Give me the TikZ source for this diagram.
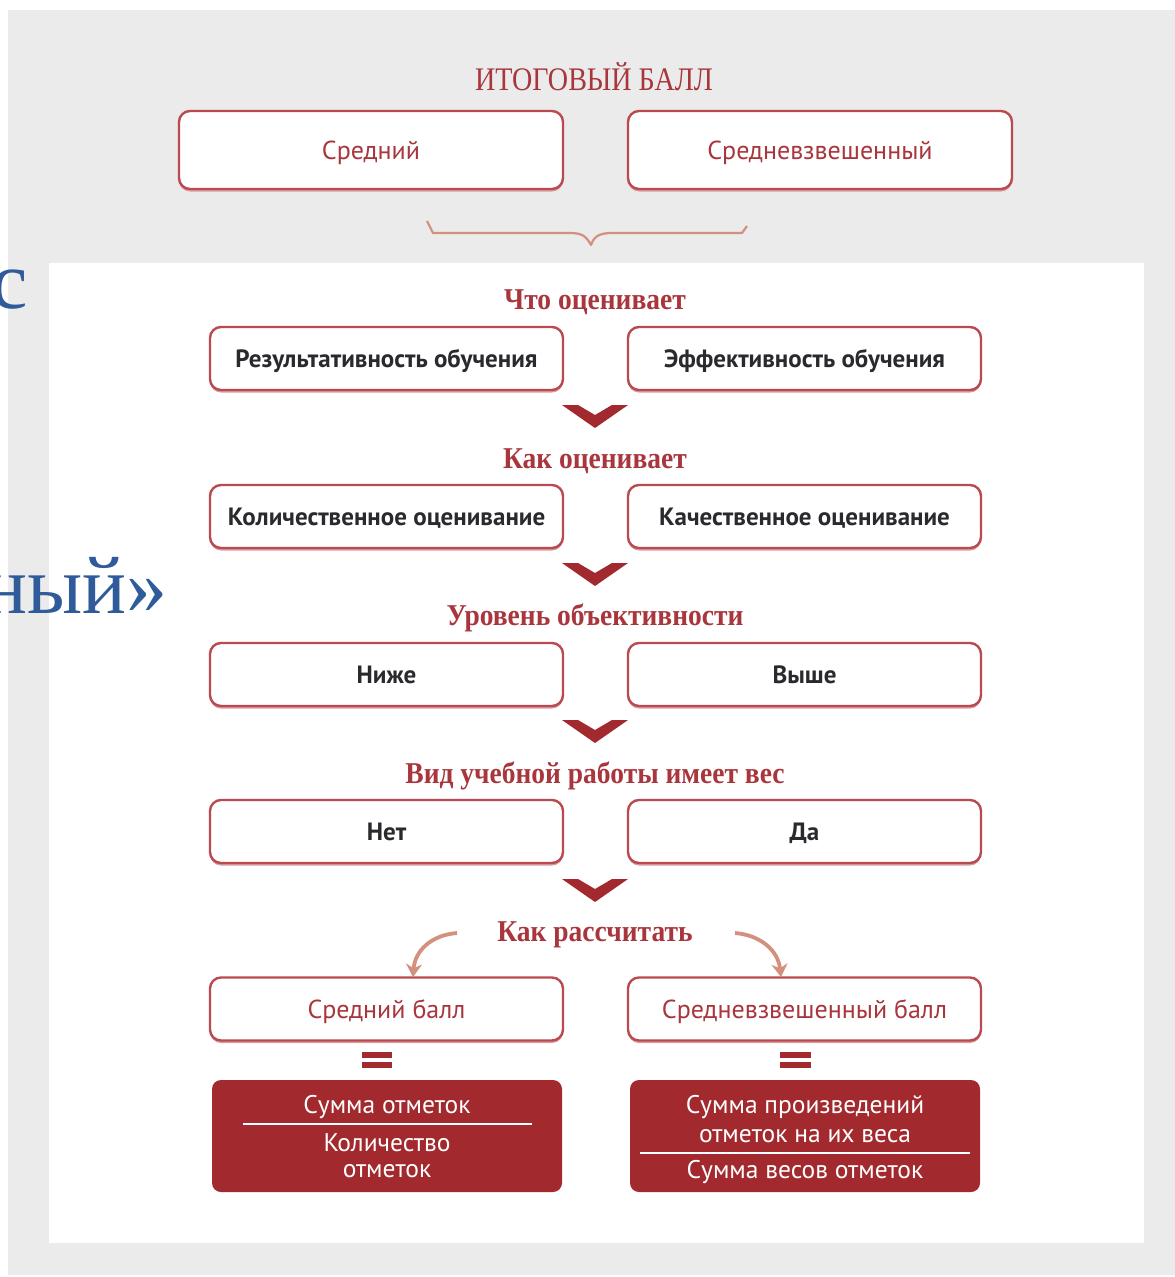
\documentclass[tikz,border=0pt]{standalone}
\usepackage{fontspec}
\setmainfont{Liberation Serif}
\newfontfamily\pts{PT Sans}
\usetikzlibrary{shadows,arrows.meta}
\definecolor{bggrey}{HTML}{EBEBEB}
\definecolor{dred}{HTML}{A2292E}
\definecolor{bred}{HTML}{BA4A50}
\definecolor{hred}{HTML}{A8363C}
\definecolor{salmon}{HTML}{D4907E}
\definecolor{blu}{HTML}{2F5B9A}
\definecolor{dtext}{HTML}{2A2A2E}
\begin{document}
\begin{tikzpicture}[x=1pt,y=-1pt,
  basebox/.style={draw=bred, line width=2.4pt, rounded corners=11pt, fill=white, inner sep=0pt,
    text depth=0pt,
    drop shadow={shadow xshift=0pt, shadow yshift=-2.5pt, fill=bred!55, opacity=1}},
  topbox/.style={basebox, minimum width=384pt, minimum height=78pt, text=hred, text height=18pt, font=\pts\fontsize{26}{30}\selectfont},
  optbox/.style={basebox, minimum width=353pt, minimum height=63pt, text=dtext, text height=17.5pt, font=\pts\bfseries\fontsize{25}{29}\selectfont},
  resbox/.style={basebox, minimum width=353pt, minimum height=63pt, text=hred, text height=18pt, font=\pts\fontsize{26}{30}\selectfont},
  hdr/.style={text=hred, font=\bfseries\fontsize{27.5}{32}\selectfont, inner sep=0pt},
  fbox/.style={fill=dred, rounded corners=9pt, minimum width=350pt, minimum height=112pt, inner sep=0pt},
  ftext/.style={text=white, font=\pts\fontsize{25.5}{29}\selectfont, inner sep=0pt},
  chev/.style={fill=dred},
  curvarr/.style={draw=salmon, line width=3.8pt, -{Stealth[length=13pt,width=16pt]}},
  bluetxt/.style={text=blu, font=\fontsize{82}{82}\selectfont, inner sep=0pt}
]
\useasboundingbox (0,0) rectangle (1175,1277);
% backgrounds
\fill[bggrey] (8,10) rectangle (1175,1275);
\fill[white] (49,263) rectangle (1144,1243);

% cut-off blue text at left
\node[bluetxt, anchor=base east] (bc) at (28,308) {с};
\node[bluetxt, anchor=base east] (bn) at (168,613) {ный»};

% title
\node[text=hred, font=\fontsize{27}{30}\selectfont, inner sep=0pt] (title) at (594,77) {\scalebox{1.04}[1.22]{ИТОГОВЫЙ БАЛЛ}};
\node[topbox] (avg) at (371,150) {Средний};
\node[topbox] (wavg) at (820,150) {Средневзвешенный};

% brace
\draw[salmon, line width=2.2pt, line join=round]
  (427,221) -- (433,233) -- (570,233) .. controls (582,233) and (586,236) .. (591,245)
  .. controls (594,236) and (600,233) .. (612,233) -- (742,233) -- (747,226);

% headers
\node[hdr] (h1) at (595,302) {\scalebox{1}[1.1]{Что оценивает}};
\node[hdr] (h2) at (595,461) {\scalebox{1}[1.1]{Как оценивает}};
\node[hdr] (h3) at (595,618) {\scalebox{1}[1.1]{Уровень объективности}};
\node[hdr] (h4) at (595,776) {\scalebox{1}[1.1]{Вид учебной работы имеет вес}};
\node[hdr] (h5) at (595,935) {\scalebox{1}[1.1]{Как рассчитать}};

% rows
\node[optbox] (r1l) at (386.5,358.5) {Результативность обучения};
\node[optbox] (r1r) at (804.5,358.5) {Эффективность обучения};
\node[optbox] (r2l) at (386.5,516.5) {Количественное оценивание};
\node[optbox] (r2r) at (804.5,516.5) {Качественное оценивание};
\node[optbox] (r3l) at (386.5,674.5) {Ниже};
\node[optbox] (r3r) at (804.5,674.5) {Выше};
\node[optbox] (r4l) at (386.5,831.5) {Нет};
\node[optbox] (r4r) at (804.5,831.5) {Да};
\node[resbox] (r5l) at (386.5,1009) {Средний балл};
\node[resbox] (r5r) at (804.5,1009) {Средневзвешенный балл};

% chevrons
\foreach \yy in {405,563,720,879}{
  \fill[chev] (562,\yy) -- (578,\yy) -- (595,\yy+10) -- (612,\yy) -- (628,\yy) -- (595,\yy+23) -- cycle;
}

% curved arrows
\coordinate (lt) at (457,933);
\coordinate (le) at (413,977);
\coordinate (rt) at (735,933);
\coordinate (re) at (781,977);
\draw[curvarr] (lt) .. controls (432,935) and (415,950) .. (le);
\draw[curvarr] (rt) .. controls (760,935) and (778,950) .. (re);

% equal signs
\fill[dred] (362,1052) rectangle (392,1058);
\fill[dred] (362,1062) rectangle (392,1068);
\fill[dred] (780,1052) rectangle (811,1058);
\fill[dred] (780,1062) rectangle (811,1068);

% formula boxes
\node[fbox] (f1) at (387,1136) {};
\node[fbox] (f2) at (805,1136) {};
\node[ftext] (f1a) at (387,1107) {Сумма отметок};
\draw[white, line width=1.6pt] (243,1124) -- (532,1124);
\node[ftext] (f1b) at (387,1143) {Количество};
\node[ftext] (f1c) at (387,1171) {отметок};
\node[ftext] (f2a) at (805,1107) {Сумма произведений};
\node[ftext] (f2b) at (805,1136) {отметок на их веса};
\draw[white, line width=1.6pt] (640,1153) -- (970,1153);
\node[ftext] (f2c) at (805,1172) {Сумма весов отметок};
\end{tikzpicture}
\end{document}
